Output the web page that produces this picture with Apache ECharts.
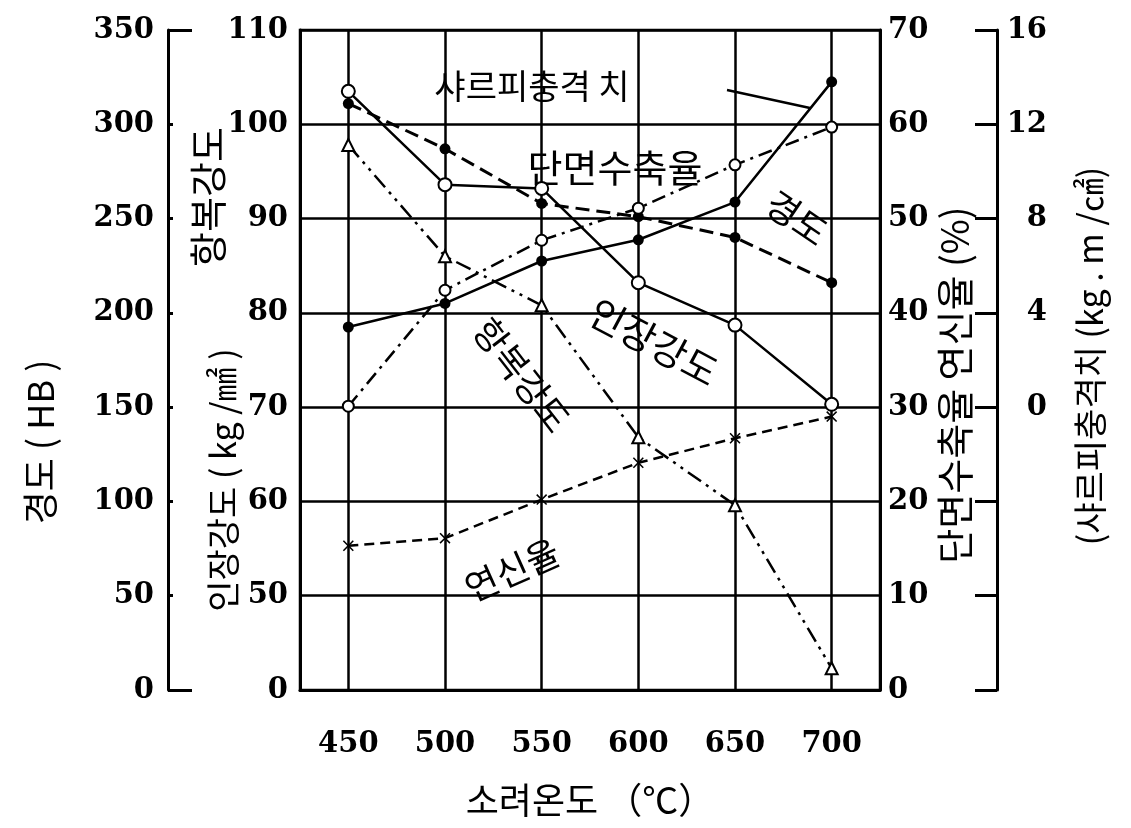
<!DOCTYPE html>
<html>
<head>
<meta charset="utf-8">
<script src="https://cdn.jsdelivr.net/npm/echarts@6/dist/echarts.min.js"></script>
<style>
html,body{margin:0;padding:0;background:#fff;}
#c{width:1131px;height:828px;}
</style>
</head>
<body>
<div id="c"></div>
<script>
// ---- data ----
const temps = [450, 500, 550, 600, 650, 700];            // 소려온도 (℃)
const hardness = [311, 287, 258, 251, 240, 216];          // 경도 (HB)
const charpy = [3.4, 4.4, 6.2, 7.1, 8.7, 13.8];           // 샤르피충격치 (kg.m/㎠)
const tensile = [103.5, 93.6, 93.2, 83.2, 78.7, 70.3];    // 인장강도 (kg/㎟)
const yieldStr = [97.8, 86.0, 80.8, 66.8, 59.6, 42.3];    // 항복강도 (kg/㎟)
const reduction = [30.1, 42.4, 47.7, 51.1, 55.7, 59.7];   // 단면수축율 (%)
const elongation = [15.3, 16.1, 20.2, 24.1, 26.7, 29.0];  // 연신율 (%)
const xTicks = [450, 500, 550, 600, 650, 700];

const pair = (ys) => temps.map((t, i) => [t, ys[i]]);
const NUM = '"DejaVu Serif", "Liberation Serif", serif';
const KR = '"Noto Sans CJK KR", "Noto Sans", sans-serif';
const BLACK = '#000';

const chart = echarts.init(document.getElementById('c'), null, {renderer: 'canvas'});

const xSymbol = 'path://M0,1L1,0L5,4L9,0L10,1L6,5L10,9L9,10L5,6L1,10L0,9L4,5Z';

function txt(text, x, y, size, rot) {
  return {
    type: 'text', x: x, y: y, rotation: rot || 0,
    style: {
      text: text, font: size + 'px ' + KR, fill: BLACK,
      align: 'center', verticalAlign: 'middle',
      textAlign: 'center', textVerticalAlign: 'middle'
    }
  };
}

const numLabel = {color: BLACK, fontFamily: NUM, fontSize: 29, fontWeight: 'bold'};

const option = {
  animation: false,
  backgroundColor: '#fff',
  grid: {left: 300, right: 251, top: 30, bottom: 138, show: true,
         borderColor: BLACK, borderWidth: 2.5, backgroundColor: 'transparent'},
  xAxis: {
    type: 'value', min: 425, max: 725, interval: 25,
    axisLine: {show: true, lineStyle: {color: BLACK, width: 3}},
    axisTick: {show: false},
    splitLine: {show: false},
    axisLabel: Object.assign({}, numLabel, {
      margin: 40,
      formatter: v => (v % 50 === 0 && v >= 450 && v <= 700) ? String(v) : ''
    })
  },
  yAxis: [
    { // 0: tensile / yield strength (inner left)
      type: 'value', min: 40, max: 110, interval: 10, position: 'left',
      axisLine: {show: true, lineStyle: {color: BLACK, width: 3}},
      axisTick: {show: false},
      splitLine: {show: true, lineStyle: {color: BLACK, width: 2.5}},
      axisLabel: Object.assign({}, numLabel, {margin: 12,
                  formatter: v => v === 40 ? '0' : String(v)})
    },
    { // 1: hardness (outer left)
      type: 'value', min: 0, max: 350, interval: 50, position: 'left', offset: 132,
      axisLine: {show: true, lineStyle: {color: BLACK, width: 3}},
      axisTick: {show: true, inside: true, length: 5, lineStyle: {color: BLACK, width: 3}},
      splitLine: {show: false},
      axisLabel: Object.assign({}, numLabel, {margin: 14})
    },
    { // 2: reduction / elongation (inner right)
      type: 'value', min: 0, max: 70, interval: 10, position: 'right',
      axisLine: {show: true, lineStyle: {color: BLACK, width: 3}},
      axisTick: {show: false},
      splitLine: {show: false},
      axisLabel: Object.assign({}, numLabel, {margin: 8})
    },
    { // 3: charpy (outer right)
      type: 'value', min: -12, max: 16, interval: 4, position: 'right', offset: 117,
      axisLine: {show: true, lineStyle: {color: BLACK, width: 3}},
      axisTick: {show: true, inside: true, length: 22, lineStyle: {color: BLACK, width: 3}},
      splitLine: {show: false},
      axisLabel: Object.assign({}, numLabel, {margin: 50, align: 'right',
                  formatter: v => v >= 0 ? String(v) : ''})
    },
    { // 4: end caps of hardness axis
      type: 'value', min: 0, max: 350, interval: 350, position: 'left', offset: 132,
      axisLine: {show: false},
      axisTick: {show: true, inside: true, length: 24, lineStyle: {color: BLACK, width: 3}},
      splitLine: {show: false},
      axisLabel: {show: false}
    }
  ],
  series: [
    {
      name: '인장강도', type: 'line', yAxisIndex: 0, data: pair(tensile),
      symbol: 'emptyCircle', symbolSize: 13,
      lineStyle: {color: BLACK, width: 2.5, type: 'solid'},
      itemStyle: {color: BLACK, borderWidth: 2.5},
      markLine: {
        silent: true, symbol: ['none', 'none'], label: {show: false},
        lineStyle: {color: BLACK, width: 2.5, type: 'solid'},
        data: xTicks.map(t => ({xAxis: t}))
      },
      z: 5
    },
    {
      name: '항복강도', type: 'line', yAxisIndex: 0, data: pair(yieldStr),
      symbol: 'emptyTriangle', symbolSize: 12,
      lineStyle: {color: BLACK, width: 2.5, type: [16, 6, 3, 6, 3, 6]},
      itemStyle: {color: BLACK, borderWidth: 2.5},
      z: 5
    },
    {
      name: '경도', type: 'line', yAxisIndex: 1, data: pair(hardness),
      symbol: 'circle', symbolSize: 11,
      lineStyle: {color: BLACK, width: 3, type: [14, 7]},
      itemStyle: {color: BLACK},
      z: 5
    },
    {
      name: '샤르피충격치', type: 'line', yAxisIndex: 3, data: pair(charpy),
      symbol: 'circle', symbolSize: 11,
      lineStyle: {color: BLACK, width: 2.5, type: 'solid'},
      itemStyle: {color: BLACK},
      z: 5
    },
    {
      name: '단면수축율', type: 'line', yAxisIndex: 2, data: pair(reduction),
      symbol: 'emptyCircle', symbolSize: 11,
      lineStyle: {color: BLACK, width: 2.5, type: [14, 6, 3, 6]},
      itemStyle: {color: BLACK, borderWidth: 2.5},
      z: 5
    },
    {
      name: '연신율', type: 'line', yAxisIndex: 2, data: pair(elongation),
      symbol: xSymbol, symbolSize: 11,
      lineStyle: {color: BLACK, width: 2.5, type: [10, 6]},
      itemStyle: {color: BLACK},
      z: 5
    }
  ],
  graphic: [
    txt('경도 ( HB )', 40, 442, 36, Math.PI / 2),
    txt('인장강도 ( kg /㎟ )', 223, 480, 34, Math.PI / 2),
    txt('항복강도', 208, 197, 38, Math.PI / 2),
    txt('단면수축율 연신율 (%)', 955, 385, 38, Math.PI / 2),
    txt('(샤르피충격치 (kg . m /㎠)', 1090, 356, 34, Math.PI / 2),
    txt('소려온도 （℃）', 590, 800, 36, 0),
    txt('샤르피충격 치', 532, 86, 34, 0),
    txt('단면수축율', 615, 168, 38, 0),
    txt('경도', 797, 218, 36, -0.6),
    txt('인장강도', 654, 342, 38, -0.49),
    txt('항복강도', 522, 375, 36, -0.91),
    txt('연신율', 512, 570, 36, 0.42),
    {type: 'line', shape: {x1: 727, y1: 90, x2: 810, y2: 108},
     style: {stroke: BLACK, lineWidth: 2.5}}
  ]
};
chart.setOption(option);
</script>
</body>
</html>
